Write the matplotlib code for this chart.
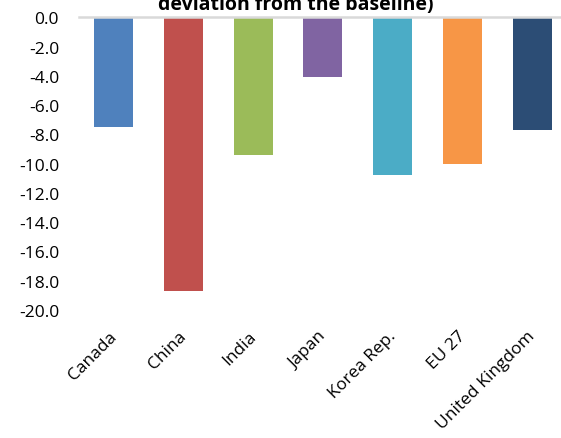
import matplotlib
matplotlib.use("Agg")
import matplotlib.pyplot as plt
import matplotlib.transforms as mtransforms
from matplotlib.ticker import FormatStrFormatter

categories = ["Canada", "China", "India", "Japan", "Korea Rep.", "EU 27", "United Kingdom"]
values = [-7.5, -18.7, -9.4, -4.1, -10.8, -10.0, -7.7]
colors = ["#4F81BD", "#C0504D", "#9BBB59", "#8064A2", "#4BACC6", "#F79646", "#2C4D75"]
yticks = [0, -2, -4, -6, -8, -10, -12, -14, -16, -18, -20]
title_line = "deviation from the baseline)"

plt.rcParams['font.family'] = ['Open Sans', 'DejaVu Sans']

fig = plt.figure(figsize=(5.61, 4.39), dpi=100)
ax = fig.add_axes([0.140, 0.292, 0.871, 0.666])
x = list(range(len(categories)))
ax.bar(x, values, width=0.56, color=colors, zorder=2)
ax.set_xlim(-0.5, len(categories) - 0.5)
ax.set_ylim(-20, 0)
ax.set_yticks(yticks)
ax.yaxis.set_major_formatter(FormatStrFormatter('%.1f'))
for s in ['left', 'right', 'bottom']:
    ax.spines[s].set_visible(False)
ax.spines['top'].set_color('#d9d9d9')
ax.spines['top'].set_linewidth(1.8)
ax.tick_params(axis='y', length=0, pad=14, labelsize=12.5)
ax.tick_params(axis='x', length=0, pad=13, labelsize=12.5)
ax.set_xticks(x)
ax.set_xticklabels(categories, rotation=45, ha='right', rotation_mode='anchor')
offset = mtransforms.ScaledTranslation(-5 / 100, 0, fig.dpi_scale_trans)
for lbl in ax.get_xticklabels():
    lbl.set_transform(lbl.get_transform() + offset)

fig.text(0.528, 1 - 10 / 439, title_line, ha='center', va='baseline', fontsize=14, fontweight='bold')

fig.savefig("out.png", dpi=100)
